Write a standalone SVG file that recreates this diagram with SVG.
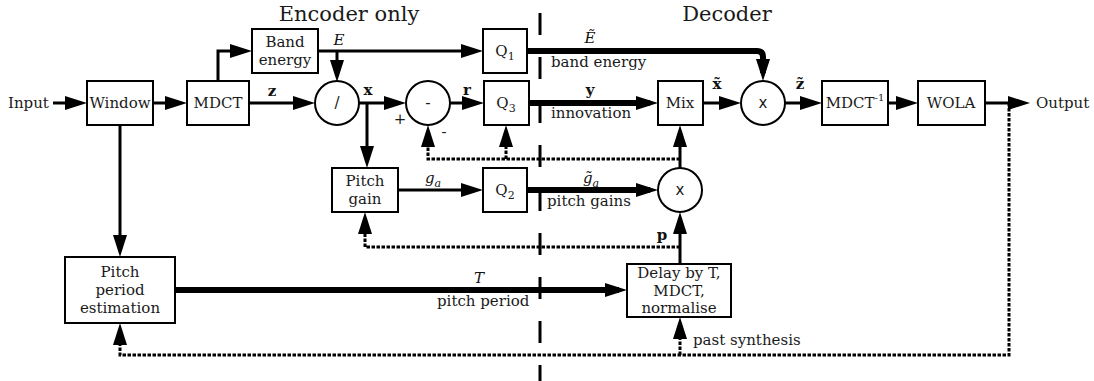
<svg xmlns="http://www.w3.org/2000/svg" width="1094" height="381" viewBox="0 0 1094 381">
<style>
  .box { fill: #fff; stroke: #000; stroke-width: 2; }
  .circ { fill: #fff; stroke: #000; stroke-width: 2; }
  .lbl { font-family: 'DejaVu Serif', serif; font-size: 15px; fill: #1a1a1a; }
  .elb { font-family: 'DejaVu Serif', serif; font-size: 15px; fill: #1a1a1a; }
  .mid { text-anchor: middle; }
  .sym { font-family: 'DejaVu Sans', sans-serif; font-size: 15px; fill: #1a1a1a; text-anchor: middle; }
  .title { font-family: 'DejaVu Serif', serif; font-size: 21px; fill: #1a1a1a; text-anchor: middle; }
  .math { font-family: 'DejaVu Serif', serif; font-size: 15px; fill: #111; }
  .bold { font-weight: bold; }
  .ital { font-style: italic; }
  .wire { fill: none; stroke: #000; stroke-width: 3; }
  .thick { fill: none; stroke: #000; stroke-width: 6; }
  .dots { fill: none; stroke: #000; stroke-width: 3; stroke-dasharray: 3.5 1.5; }
  .sep { fill: none; stroke: #000; stroke-width: 3; stroke-dasharray: 22 22; }
</style>
<defs>
  <marker id="ah" markerUnits="userSpaceOnUse" markerWidth="22" markerHeight="14" viewBox="0 0 22 14" refX="14" refY="7" orient="auto">
    <path d="M0,0 L22,7 L0,14 z" fill="#000"/>
  </marker>
</defs>
<rect width="1094" height="381" fill="#fff"/>

<text class="title" x="349" y="21">Encoder only</text>
<text class="title" x="727" y="21">Decoder</text>

<path class="sep" d="M540,13 V381"/>

<g id="connectors">
  <path class="wire" d="M53,103 H79" marker-end="url(#ah)"/>
  <path class="wire" d="M153,103 H179" marker-end="url(#ah)"/>
  <path class="wire" d="M218,81 V51 H244" marker-end="url(#ah)"/>
  <path class="wire" d="M249,103 H307" marker-end="url(#ah)"/>
  <path class="wire" d="M318,51 H475" marker-end="url(#ah)"/>
  <path class="wire" d="M337,51 V74" marker-end="url(#ah)"/>
  <path class="wire" d="M359,103 H398" marker-end="url(#ah)"/>
  <path class="wire" d="M367,103 V160" marker-end="url(#ah)"/>
  <path class="wire" d="M450,103 H476" marker-end="url(#ah)"/>
  <path class="thick" d="M529,103 H650" marker-end="url(#ah)"/>
  <path class="thick" d="M527,51 H757 Q763,51 763,57 V73" marker-end="url(#ah)"/>
  <path class="wire" d="M703,103 H733" marker-end="url(#ah)"/>
  <path class="wire" d="M785,103 H814" marker-end="url(#ah)"/>
  <path class="wire" d="M888,103 H910" marker-end="url(#ah)"/>
  <path class="wire" d="M985,103 H1022" marker-end="url(#ah)"/>
  <path class="wire" d="M398,190 H475" marker-end="url(#ah)"/>
  <path class="thick" d="M527,190 H650" marker-end="url(#ah)"/>
  <path class="wire" d="M680,264 V220" marker-end="url(#ah)"/>
  <path class="wire" d="M680,168 V133" marker-end="url(#ah)"/>
  <path class="wire" d="M120,125 V249" marker-end="url(#ah)"/>
  <path class="thick" d="M175,290 H619" marker-end="url(#ah)"/>
  <path class="dots" d="M1009,103 V355 H120 V331" marker-end="url(#ah)"/>
  <path class="dots" d="M680,355 V325" marker-end="url(#ah)"/>
  <path class="dots" d="M680,247 H365 V220" marker-end="url(#ah)"/>
  <path class="dots" d="M680,159 H428 V133" marker-end="url(#ah)"/>
  <path class="dots" d="M506,159 V133" marker-end="url(#ah)"/>

  <text class="elb" x="8" y="108">Input</text>
  <text class="elb" x="1036" y="108">Output</text>
  <text class="math bold mid" x="272" y="96">z</text>
  <text class="math ital mid" x="339" y="45">E</text>
  <text class="math bold mid" x="368" y="95">x</text>
  <text class="math bold mid" x="467" y="95">r</text>
  <text class="elb mid" x="400" y="124">+</text>
  <text class="elb mid" x="444" y="137">-</text>
  <text class="math ital mid" x="590" y="43">Ẽ</text>
  <text class="elb" x="551" y="67">band energy</text>
  <text class="math bold mid" x="590" y="95">y</text>
  <text class="elb" x="551" y="118">innovation</text>
  <text class="math bold mid" x="717" y="89">x̃</text>
  <text class="math bold mid" x="800" y="89">z̃</text>
  <text class="math ital" x="425" y="183">g<tspan font-size="11" dy="4">a</tspan></text>
  <text class="math ital" x="583" y="183">g̃<tspan font-size="11" dy="4">a</tspan></text>
  <text class="elb" x="547" y="206">pitch gains</text>
  <text class="math bold mid" x="662" y="240">p</text>
  <text class="math ital mid" x="479" y="283">T</text>
  <text class="elb" x="437" y="306">pitch period</text>
  <text class="elb" x="693" y="345">past synthesis</text>
</g>

<g id="window">
  <rect class="box" x="87" y="81" width="66" height="44"/>
  <text class="lbl mid" x="120" y="108">Window</text>
</g>
<g id="mdct">
  <rect class="box" x="187" y="81" width="62" height="44"/>
  <text class="lbl mid" x="218" y="108">MDCT</text>
</g>
<g id="band-energy">
  <rect class="box" x="252" y="29" width="66" height="44"/>
  <text class="lbl mid" x="285" y="47">Band</text>
  <text class="lbl mid" x="285" y="65">energy</text>
</g>
<g id="divide">
  <circle class="circ" cx="337" cy="103" r="22"/>
  <text class="sym" x="337" y="108">/</text>
</g>
<g id="subtract">
  <circle class="circ" cx="428" cy="103" r="22"/>
  <text class="sym" x="428" y="108">-</text>
</g>
<g id="q1">
  <rect class="box" x="483" y="29" width="44" height="44"/>
  <text class="lbl mid" x="505" y="56">Q<tspan font-size="11" dy="4">1</tspan></text>
</g>
<g id="q3">
  <rect class="box" x="484" y="81" width="45" height="44"/>
  <text class="lbl mid" x="506" y="108">Q<tspan font-size="11" dy="4">3</tspan></text>
</g>
<g id="pitch-gain">
  <rect class="box" x="332" y="168" width="66" height="44"/>
  <text class="lbl mid" x="365" y="186">Pitch</text>
  <text class="lbl mid" x="365" y="204">gain</text>
</g>
<g id="q2">
  <rect class="box" x="483" y="168" width="44" height="44"/>
  <text class="lbl mid" x="505" y="195">Q<tspan font-size="11" dy="4">2</tspan></text>
</g>
<g id="mix">
  <rect class="box" x="658" y="81" width="45" height="44"/>
  <text class="lbl mid" x="680" y="108">Mix</text>
</g>
<g id="mult-energy">
  <circle class="circ" cx="763" cy="103" r="22"/>
  <text class="sym" x="763" y="108">x</text>
</g>
<g id="mult-pitch">
  <circle class="circ" cx="680" cy="190" r="22"/>
  <text class="sym" x="680" y="195">x</text>
</g>
<g id="imdct">
  <rect class="box" x="822" y="81" width="66" height="44"/>
  <text class="lbl mid" x="855" y="108">MDCT<tspan font-size="10" dy="-7">-1</tspan></text>
</g>
<g id="wola">
  <rect class="box" x="918" y="81" width="67" height="44"/>
  <text class="lbl mid" x="951" y="108">WOLA</text>
</g>
<g id="pitch-period-estimation">
  <rect class="box" x="65" y="257" width="110" height="66"/>
  <text class="lbl mid" x="120" y="277">Pitch</text>
  <text class="lbl mid" x="120" y="295">period</text>
  <text class="lbl mid" x="120" y="313">estimation</text>
</g>
<g id="delay">
  <rect class="box" x="627" y="264" width="104" height="53"/>
  <text class="lbl mid" x="679" y="278" font-size="14.5">Delay by T,</text>
  <text class="lbl mid" x="679" y="296">MDCT,</text>
  <text class="lbl mid" x="679" y="313">normalise</text>
</g>
</svg>
